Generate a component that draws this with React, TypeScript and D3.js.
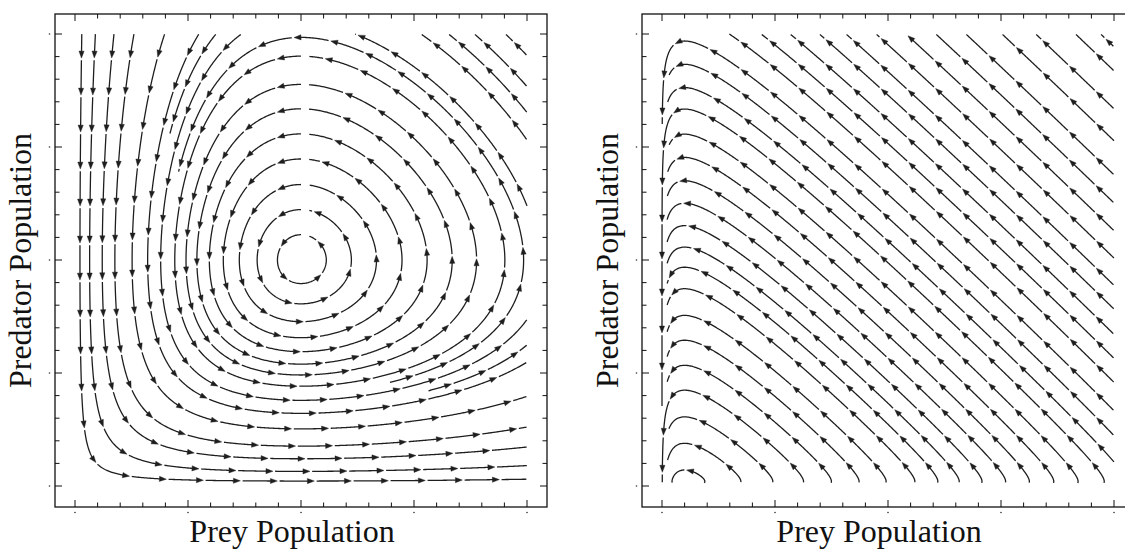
import React, { useMemo } from "react";
import * as d3 from "d3";

// ---------------- data ----------------
const AXIS_DOMAIN: [number, number] = [0, 2];
const MAJOR_TICKS = [0, 0.5, 1, 1.5, 2];
const MINOR_TICKS = [
  0.1, 0.2, 0.3, 0.4, 0.6, 0.7, 0.8, 0.9, 1.1, 1.2, 1.3, 1.4, 1.6, 1.7, 1.8, 1.9,
];
const X_TITLE = "Prey Population";
const Y_TITLE = "Predator Population";

// Lotka–Volterra rates: prey' = x(alpha - beta*y), predator' = y(delta*x - gamma)
const LEFT_RATES = { alpha: 1, beta: 1, gamma: 1, delta: 1 };
const RIGHT_RATES = { alpha: 0.02, beta: 1, gamma: 0.1, delta: 1 };

// streamline seed points (prey, predator), in drawing order
const LEFT_SEEDS: [number, number][] = [
  [1, 1.112], [1, 1.223], [1, 1.334], [1, 1.447], [1, 1.558], [1, 1.669], [1, 1.777], [1, 1.902], [1, 1.985],
  [0.03, 1.995], [0.09, 1.995], [0.172, 1.995], [0.26, 1.995], [0.395, 1.995], [0.545, 1.995],
  [0.62, 1.995], [0.73, 1.995],
  [1.91, 1.995], [1.773, 1.995], [1.659, 1.995], [1.538, 1.995], [1.252, 1.995],
  [1.995, 0.62], [1.995, 0.73],
];

const RIGHT_SEEDS: [number, number][] = [
  [0.1, 0.424], [0.1, 1.668],
  [0.1, 1.969], [0.1, 1.866], [0.1, 1.763], [0.1, 1.557], [0.1, 1.454], [0.1, 1.351], [0.1, 1.251],
  [0.1, 1.152], [0.1, 1.057], [0.1, 0.968], [0.1, 0.873], [0.1, 0.755], [0.1, 0.645], [0.1, 0.534],
  [0.1, 0.306], [0.1, 0.189], [0.1, 0.071],
  [0.305, 1.995], [0.445, 1.995], [0.573, 1.995], [0.702, 1.995], [0.82, 1.995], [0.953, 1.995],
  [1.085, 1.995], [1.217, 1.995], [1.35, 1.995], [1.51, 1.995], [1.659, 1.995], [1.835, 1.995], [1.946, 1.995],
];

// ---------------- layout ----------------
const W = 1125;
const H = 550;
const FRAME_TOP = 14;
const FRAME_W = 492;
const FRAME_H = 493;
const PAD = 20;
const STREAM_COLOR = "#1e1e1e";
const FONT = "'Liberation Serif', 'Times New Roman', serif";
const TITLE_SIZE = 32;

type Rates = { alpha: number; beta: number; gamma: number; delta: number };
type Pt = [number, number];

function traceStreams(
  rates: Rates,
  seeds: Pt[],
  sx: d3.ScaleLinear<number, number>,
  sy: d3.ScaleLinear<number, number>,
  yMin: number,
  dTest: number,
  dSep: number
): Pt[][] {
  const cell = dTest;
  const selfSkip = 3 * dTest;
  const maxSteps = 3000;
  const h = 1;
  const grid = new Map<number, { x: number; y: number; id: number; s: number }[]>();
  const key = (gx: number, gy: number) => gx * 4096 + gy;
  const add = (x: number, y: number, id: number, s: number) => {
    const k = key(Math.floor(x / cell), Math.floor(y / cell));
    let b = grid.get(k);
    if (!b) {
      b = [];
      grid.set(k, b);
    }
    b.push({ x, y, id, s });
  };
  const tooClose = (x: number, y: number, r: number, id: number, s: number) => {
    const gx = Math.floor(x / cell);
    const gy = Math.floor(y / cell);
    const n = Math.ceil(r / cell);
    for (let i = -n; i <= n; i++)
      for (let j = -n; j <= n; j++) {
        const b = grid.get(key(gx + i, gy + j));
        if (!b) continue;
        for (const p of b) {
          if (p.id === id && Math.abs(p.s - s) < selfSkip) continue;
          const dx = p.x - x;
          const dy = p.y - y;
          if (dx * dx + dy * dy < r * r) return true;
        }
      }
    return false;
  };
  const kx = sx(1) - sx(0);
  const ky = sy(0) - sy(1);
  const dir = (px: number, py: number, sgn: number): Pt | null => {
    const x = sx.invert(px);
    const y = sy.invert(py);
    const fx = x * (rates.alpha - rates.beta * y);
    const fy = y * (rates.delta * x - rates.gamma);
    const vx = fx * kx;
    const vy = -fy * ky;
    const m = Math.hypot(vx, vy);
    if (!(m > 1e-12)) return null;
    return [(sgn * vx) / m, (sgn * vy) / m];
  };
  const inside = (px: number, py: number) => {
    const x = sx.invert(px);
    const y = sy.invert(py);
    return x >= AXIS_DOMAIN[0] && x <= AXIS_DOMAIN[1] && y >= yMin && y <= AXIS_DOMAIN[1];
  };
  const lines: Pt[][] = [];
  for (const [x0, y0] of seeds) {
    const px0 = sx(x0);
    const py0 = sy(y0);
    if (!inside(px0, py0) || tooClose(px0, py0, dSep, -1, 0)) continue;
    const id = lines.length;
    add(px0, py0, id, 0);
    const halves: Pt[][] = [];
    for (const sgn of [1, -1]) {
      const pts: Pt[] = [];
      let x = px0;
      let y = py0;
      for (let k = 1; k <= maxSteps; k++) {
        const k1 = dir(x, y, sgn);
        if (!k1) break;
        const k2 = dir(x + 0.5 * h * k1[0], y + 0.5 * h * k1[1], sgn);
        if (!k2) break;
        const k3 = dir(x + 0.5 * h * k2[0], y + 0.5 * h * k2[1], sgn);
        if (!k3) break;
        const k4 = dir(x + h * k3[0], y + h * k3[1], sgn);
        if (!k4) break;
        const nx = x + (h / 6) * (k1[0] + 2 * k2[0] + 2 * k3[0] + k4[0]);
        const ny = y + (h / 6) * (k1[1] + 2 * k2[1] + 2 * k3[1] + k4[1]);
        if (!inside(nx, ny)) break;
        const s = sgn * k;
        if (tooClose(nx, ny, dTest, id, s)) break;
        add(nx, ny, id, s);
        pts.push([nx, ny]);
        x = nx;
        y = ny;
      }
      halves.push(pts);
    }
    const line: Pt[] = [...halves[1].reverse(), [px0, py0], ...halves[0]];
    lines.push(line);
  }
  return lines;
}

function streamGeometry(lines: Pt[][]) {
  const spacing = 37;
  const gap = 2.2;
  const headLen = 7;
  const headHalf = 2.6;
  const lineGen = d3.line<Pt>();
  let segD = "";
  let headD = "";
  for (const pts of lines) {
    if (pts.length < 3) continue;
    const cum: number[] = [0];
    for (let i = 1; i < pts.length; i++)
      cum.push(cum[i - 1] + Math.hypot(pts[i][0] - pts[i - 1][0], pts[i][1] - pts[i - 1][1]));
    const total = cum[cum.length - 1];
    if (total < 5) continue;
    const at = (s: number): Pt => {
      const i = d3.bisectLeft(cum, s);
      if (i <= 0) return pts[0];
      if (i >= pts.length) return pts[pts.length - 1];
      const t = (s - cum[i - 1]) / (cum[i] - cum[i - 1] || 1);
      return [
        pts[i - 1][0] + t * (pts[i][0] - pts[i - 1][0]),
        pts[i - 1][1] + t * (pts[i][1] - pts[i - 1][1]),
      ];
    };
    const slice = (a: number, b: number): Pt[] => {
      const out: Pt[] = [at(a)];
      for (let i = 0; i < pts.length; i++) if (cum[i] > a && cum[i] < b) out.push(pts[i]);
      out.push(at(b));
      return out;
    };
    const arrows: number[] = [];
    const s0 = Math.min(24, total * 0.6);
    for (let s = s0; s <= total - 0.5; s += spacing) arrows.push(s);
    let start = 0;
    for (const a of arrows) {
      const end = a - headLen + 0.5;
      if (end > start + 0.5) segD += lineGen(slice(start, end)) || "";
      const tip = at(a);
      const back = at(Math.max(0, a - 4));
      let dx = tip[0] - back[0];
      let dy = tip[1] - back[1];
      const m = Math.hypot(dx, dy) || 1;
      dx /= m;
      dy /= m;
      const bx = tip[0] - dx * headLen;
      const by = tip[1] - dy * headLen;
      headD += `M${tip[0].toFixed(2)},${tip[1].toFixed(2)}L${(bx - dy * headHalf).toFixed(2)},${(by + dx * headHalf).toFixed(2)}L${(bx + dy * headHalf).toFixed(2)},${(by - dx * headHalf).toFixed(2)}Z`;
      start = a + gap;
    }
    if (total > start + 0.5) segD += lineGen(slice(start, total)) || "";
  }
  return { segD, headD };
}

function Panel({
  left,
  rates,
  seeds,
  yMin,
  dTest,
  dSep,
}: {
  left: number;
  rates: Rates;
  seeds: Pt[];
  yMin: number;
  dTest: number;
  dSep: number;
}) {
  const sx = d3.scaleLinear().domain(AXIS_DOMAIN).range([left + PAD, left + FRAME_W - PAD]);
  const sy = d3
    .scaleLinear()
    .domain(AXIS_DOMAIN)
    .range([FRAME_TOP + FRAME_H - PAD - 1, FRAME_TOP + PAD]);
  const geom = useMemo(
    () => streamGeometry(traceStreams(rates, seeds, sx, sy, yMin, dTest, dSep)),
    [left]
  );
  const right = left + FRAME_W;
  const bottom = FRAME_TOP + FRAME_H;
  const majLen = 7;
  const minLen = 4.5;
  const ticks: JSX.Element[] = [];
  const addTicks = (vals: number[], len: number, tag: string) => {
    vals.forEach((v, i) => {
      const x = sx(v);
      const y = sy(v);
      ticks.push(
        <line key={`b${tag}${i}`} x1={x} x2={x} y1={bottom} y2={bottom - len} />,
        <line key={`t${tag}${i}`} x1={x} x2={x} y1={FRAME_TOP} y2={FRAME_TOP + len} />,
        <line key={`l${tag}${i}`} x1={left} x2={left + len} y1={y} y2={y} />,
        <line key={`r${tag}${i}`} x1={right} x2={right - len} y1={y} y2={y} />
      );
    });
  };
  addTicks(MAJOR_TICKS, majLen, "M");
  addTicks(MINOR_TICKS, minLen, "m");
  const cx = (left + right) / 2 - 9;
  return (
    <g>
      <g stroke="#111" strokeWidth={1}>{ticks}</g>
      <rect x={left} y={FRAME_TOP} width={FRAME_W} height={FRAME_H} fill="none" stroke="#111" strokeWidth={1.3} />
      {MAJOR_TICKS.map((v, i) => (
        <circle key={`dx${i}`} cx={sx(v)} cy={bottom + 5.5} r={0.8} fill="#333" />
      ))}
      {MAJOR_TICKS.map((v, i) => (
        <circle key={`dy${i}`} cx={left - 5.5} cy={sy(v)} r={0.8} fill="#333" />
      ))}
      <path d={geom.segD} fill="none" stroke={STREAM_COLOR} strokeWidth={1.3} strokeLinecap="butt" />
      <path d={geom.headD} fill={STREAM_COLOR} stroke={STREAM_COLOR} strokeWidth={0.4} />
      <text x={cx} y={542} textAnchor="middle" fontFamily={FONT} fontSize={TITLE_SIZE} fill="#111">
        {X_TITLE}
      </text>
      <text
        transform={`translate(${left - 24},${(FRAME_TOP + bottom) / 2}) rotate(-90)`}
        textAnchor="middle"
        fontFamily={FONT}
        fontSize={TITLE_SIZE}
        fill="#111"
      >
        {Y_TITLE}
      </text>
    </g>
  );
}

export default function App() {
  return (
    <svg
      width={W}
      height={H}
      viewBox={`0 0 ${W} ${H}`}
      style={{ position: "fixed", left: 0, top: 0, background: "#fff" }}
    >
      <rect width={W} height={H} fill="#fff" />
      <Panel left={55} rates={LEFT_RATES} seeds={LEFT_SEEDS} yMin={0} dTest={8} dSep={10} />
      <Panel left={642} rates={RIGHT_RATES} seeds={RIGHT_SEEDS} yMin={0.013} dTest={5} dSep={8} />
    </svg>
  );
}
